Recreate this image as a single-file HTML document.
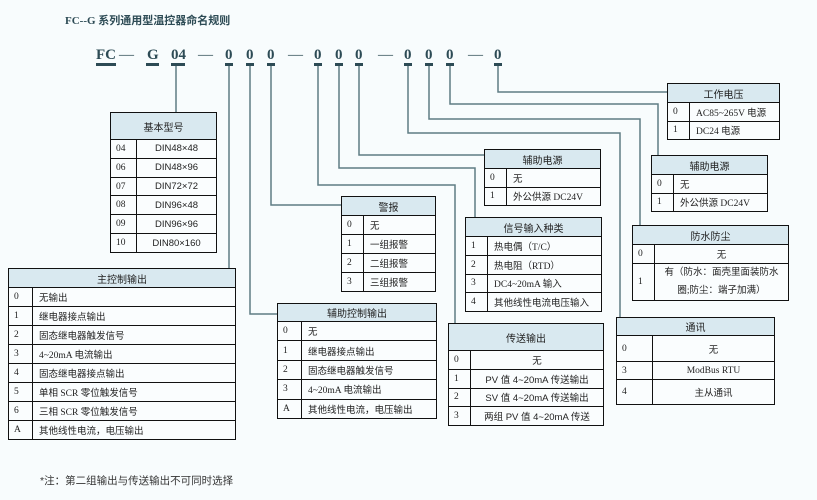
<!DOCTYPE html>
<html><head><meta charset="utf-8"><style>
body{margin:0;width:817px;height:500px;background:#f8fcfd;position:relative;overflow:hidden;font-family:"Liberation Serif","Noto Sans CJK SC",serif;color:#222}
.t{position:absolute;border-collapse:collapse;font-size:9.5px;table-layout:fixed;background:#fafdfe}
.t td{border:1.3px solid #111;padding:0 0 0 6px;white-space:nowrap;overflow:hidden}
.t th{border:1.3px solid #111;background:#d9e9f0;font-weight:normal;font-size:10px;font-family:"Noto Sans CJK SC",sans-serif}
.t td:first-child{padding-left:5px}
.c td:last-child{text-align:center;padding:0}
.s{font-family:"Liberation Sans","Noto Sans CJK SC",sans-serif}
.d{position:absolute;top:47px;font-weight:bold;font-size:15px;color:#2d4b55;font-family:"Liberation Serif",serif}
.u{position:absolute;top:63px;height:3px;background:#2d4b55}
</style></head><body>
<div style="position:absolute;left:65px;top:12px;font-size:11px;font-weight:bold;color:#2d4b55;font-family:'Liberation Serif','Noto Sans CJK SC',serif">FC--G 系列通用型温控器命名规则</div>

<div class="d" style="left:96px">FC</div><div class="u" style="left:96px;width:20px"></div>
<div class="d" style="left:119px;font-weight:normal">—</div>
<div class="d" style="left:147px">G</div><div class="u" style="left:146px;width:13px"></div>
<div class="d" style="left:171px">04</div><div class="u" style="left:171px;width:14px"></div>
<div class="d" style="left:198px;font-weight:normal">—</div>
<div class="d" style="left:225px">0</div><div class="u" style="left:225px;width:8px"></div>
<div class="d" style="left:246px">0</div><div class="u" style="left:246px;width:8px"></div>
<div class="d" style="left:267px">0</div><div class="u" style="left:267px;width:8px"></div>
<div class="d" style="left:288px;font-weight:normal">—</div>
<div class="d" style="left:314px">0</div><div class="u" style="left:314px;width:8px"></div>
<div class="d" style="left:335px">0</div><div class="u" style="left:335px;width:8px"></div>
<div class="d" style="left:355px">0</div><div class="u" style="left:355px;width:8px"></div>
<div class="d" style="left:378px;font-weight:normal">—</div>
<div class="d" style="left:404px">0</div><div class="u" style="left:404px;width:8px"></div>
<div class="d" style="left:425px">0</div><div class="u" style="left:425px;width:8px"></div>
<div class="d" style="left:446px">0</div><div class="u" style="left:446px;width:8px"></div>
<div class="d" style="left:468px;font-weight:normal">—</div>
<div class="d" style="left:494px">0</div><div class="u" style="left:494px;width:8px"></div>

<svg width="817" height="500" style="position:absolute;left:0;top:0" fill="none" stroke="#5f7d84" stroke-width="1.5">
<path d="M176 66V112"/>
<path d="M229 66V268"/>
<path d="M250 66V314H277"/>
<path d="M271 66V205H341"/>
<path d="M318 66V185H455V323"/>
<path d="M339 66V168H475V217"/>
<path d="M359 66V155H484"/>
<path d="M408 66V133H620V317"/>
<path d="M429 66V119H640V225"/>
<path d="M450 66V104H658V155"/>
<path d="M498 66V92H668"/>
</svg>

<table class="t c" style="left:110px;top:112px;width:107px;height:141px"><col style="width:26px"><col>
<tr style="height:27px"><th colspan="2">基本型号</th></tr>
<tr><td>04</td><td class="s">DIN48×48</td></tr><tr><td>06</td><td class="s">DIN48×96</td></tr>
<tr><td>07</td><td class="s">DIN72×72</td></tr><tr><td>08</td><td class="s">DIN96×48</td></tr>
<tr><td>09</td><td class="s">DIN96×96</td></tr><tr><td>10</td><td class="s">DIN80×160</td></tr></table>

<table class="t" style="left:8px;top:268px;width:228px;height:172px"><col style="width:24px"><col>
<tr style="height:19px"><th colspan="2">主控制输出</th></tr>
<tr><td>0</td><td>无输出</td></tr><tr><td>1</td><td>继电器接点输出</td></tr>
<tr><td>2</td><td>固态继电器触发信号</td></tr><tr><td>3</td><td>4~20mA 电流输出</td></tr>
<tr><td>4</td><td>固态继电器接点输出</td></tr><tr><td>5</td><td>单相 SCR 零位触发信号</td></tr>
<tr><td>6</td><td>三相 SCR 零位触发信号</td></tr><tr><td>A</td><td>其他线性电流，电压输出</td></tr></table>

<table class="t" style="left:277px;top:303px;width:160px;height:116px"><col style="width:24px"><col>
<tr style="height:18px"><th colspan="2">辅助控制输出</th></tr>
<tr><td>0</td><td>无</td></tr><tr><td>1</td><td>继电器接点输出</td></tr>
<tr><td>2</td><td>固态继电器触发信号</td></tr><tr><td>3</td><td>4~20mA 电流输出</td></tr>
<tr><td>A</td><td>其他线性电流，电压输出</td></tr></table>

<table class="t" style="left:341px;top:196px;width:95px;height:96px"><col style="width:22px"><col>
<tr style="height:19px"><th colspan="2">警报</th></tr>
<tr><td>0</td><td>无</td></tr><tr><td>1</td><td>一组报警</td></tr>
<tr><td>2</td><td>二组报警</td></tr><tr><td>3</td><td>三组报警</td></tr></table>

<table class="t" style="left:484px;top:149px;width:117px;height:57px"><col style="width:22px"><col>
<tr style="height:19px"><th colspan="2">辅助电源</th></tr>
<tr><td>0</td><td>无</td></tr><tr><td>1</td><td>外公供源 DC24V</td></tr></table>

<table class="t" style="left:465px;top:217px;width:137px;height:95px"><col style="width:22px"><col>
<tr style="height:19px"><th colspan="2">信号输入种类</th></tr>
<tr><td>1</td><td>热电偶（T/C）</td></tr><tr><td>2</td><td>热电阻（RTD）</td></tr>
<tr><td>3</td><td>DC4~20mA 输入</td></tr><tr><td>4</td><td>其他线性电流电压输入</td></tr></table>

<table class="t c" style="left:448px;top:323px;width:156px;height:103px"><col style="width:22px"><col>
<tr style="height:27px"><th colspan="2">传送输出</th></tr>
<tr><td>0</td><td>无</td></tr><tr><td>1</td><td class="s">PV 值 4~20mA 传送输出</td></tr>
<tr><td>2</td><td class="s">SV 值 4~20mA 传送输出</td></tr><tr><td>3</td><td class="s">两组 PV 值 4~20mA 传送</td></tr></table>

<table class="t" style="left:667px;top:83px;width:113px;height:57px"><col style="width:22px"><col>
<tr style="height:19px"><th colspan="2">工作电压</th></tr>
<tr><td>0</td><td>AC85~265V 电源</td></tr><tr><td>1</td><td>DC24 电源</td></tr></table>

<table class="t" style="left:651px;top:155px;width:117px;height:57px"><col style="width:22px"><col>
<tr style="height:19px"><th colspan="2">辅助电源</th></tr>
<tr><td>0</td><td>无</td></tr><tr><td>1</td><td>外公供源 DC24V</td></tr></table>

<table class="t c" style="left:632px;top:225px;width:157px;height:76px"><col style="width:22px"><col>
<tr style="height:19px"><th colspan="2">防水防尘</th></tr>
<tr style="height:19px"><td>0</td><td>无</td></tr>
<tr><td>1</td><td style="line-height:18px;font-size:9.5px">有（防水：面壳里面装防水<br>圈;防尘：端子加满）</td></tr></table>

<table class="t c" style="left:616px;top:317px;width:159px;height:88px"><col style="width:36px"><col>
<tr style="height:18px"><th colspan="2">通讯</th></tr>
<tr style="height:26px"><td>0</td><td>无</td></tr><tr><td>3</td><td>ModBus RTU</td></tr><tr><td>4</td><td>主从通讯</td></tr></table>

<div style="position:absolute;left:40px;top:473px;font-size:10.5px;font-family:'Liberation Sans','Noto Sans CJK SC',sans-serif;color:#333">*注：第二组输出与传送输出不可同时选择</div>
</body></html>
